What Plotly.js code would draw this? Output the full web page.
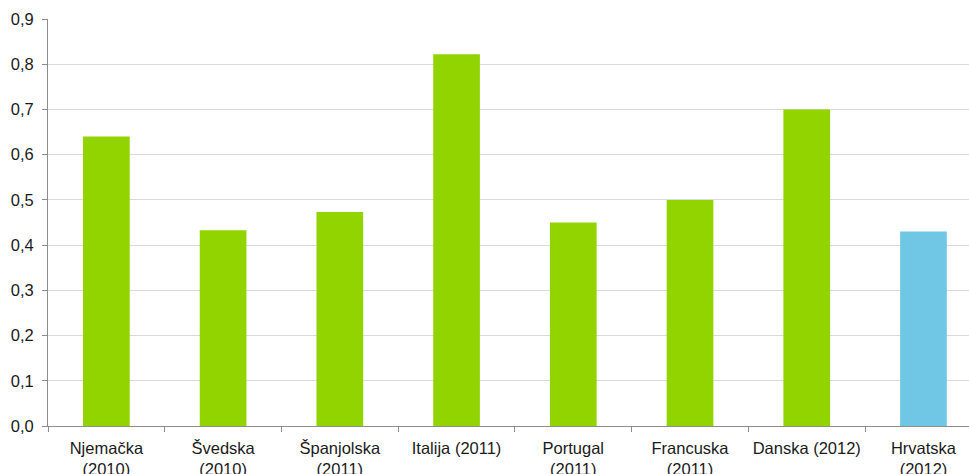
<!DOCTYPE html>
<html>
<head>
<meta charset="utf-8">
<script src="https://cdn.plot.ly/plotly-3.0.1.min.js"></script>
<style>
  html, body { margin: 0; padding: 0; background: #fff; }
  #chart { width: 969px; height: 474px; }
</style>
</head>
<body>
<div id="chart"></div>
<script>
// Categories (country and reference year)
const countries = [
  'Njemačka<br>(2010)',
  'Švedska<br>(2010)',
  'Španjolska<br>(2011)',
  'Italija (2011)',
  'Portugal<br>(2011)',
  'Francuska<br>(2011)',
  'Danska (2012)',
  'Hrvatska<br>(2012)'
];

// Values per country
const values = [0.64, 0.433, 0.473, 0.822, 0.45, 0.50, 0.70, 0.43];

// Bar colours: Croatia highlighted in blue
const barColors = ['#92d400', '#92d400', '#92d400', '#92d400', '#92d400', '#92d400', '#92d400', '#70c6e5'];

// Y-axis ticks
const yTicks = [0, 0.1, 0.2, 0.3, 0.4, 0.5, 0.6, 0.7, 0.8, 0.9];

const trace = {
  type: 'bar',
  x: countries,
  y: values,
  marker: { color: barColors },
  hoverinfo: 'x+y'
};

const layout = {
  width: 969,
  height: 474,
  margin: { l: 48, r: 0, t: 18.7, b: 48 },
  paper_bgcolor: '#ffffff',
  plot_bgcolor: '#ffffff',
  separators: ', ',
  bargap: 0.6,
  showlegend: false,
  font: { family: 'Liberation Sans, Arial, sans-serif', size: 16.5, color: '#1a1a1a' },
  xaxis: {
    type: 'category',
    range: [-0.5, 7.39],
    showgrid: false,
    showline: true,
    linecolor: '#8c8c8c',
    linewidth: 1,
    ticks: 'outside',
    tickson: 'boundaries',
    ticklen: 5,
    tickcolor: '#8c8c8c',
    tickangle: 0,
    ticklabelstandoff: 7,
    tickfont: { size: 16.5, color: '#1a1a1a' },
    fixedrange: true
  },
  yaxis: {
    range: [0, 0.9],
    tickvals: yTicks,
    tickformat: '.1f',
    showgrid: true,
    gridcolor: '#d9d9d9',
    gridwidth: 1,
    zeroline: false,
    showline: true,
    linecolor: '#8c8c8c',
    linewidth: 1,
    ticks: 'outside',
    ticklen: 5,
    tickcolor: '#8c8c8c',
    ticklabelstandoff: 5,
    tickfont: { size: 16.5, color: '#1a1a1a' },
    fixedrange: true
  }
};

Plotly.newPlot('chart', [trace], layout, { displayModeBar: false, staticPlot: true });
</script>
</body>
</html>
